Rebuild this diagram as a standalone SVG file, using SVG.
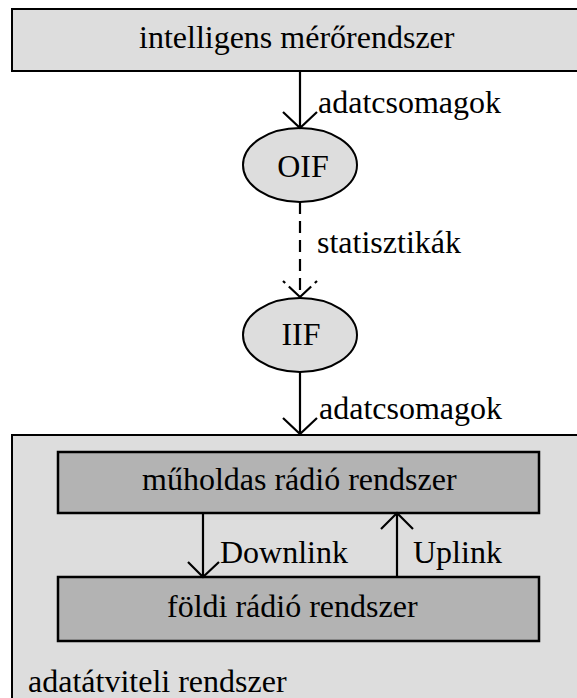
<svg xmlns="http://www.w3.org/2000/svg" width="577" height="698" viewBox="0 0 577 698">
  <style>
    .box { fill: #dddddd; stroke: #000; stroke-width: 2; }
    .inner { fill: #b3b3b3; stroke: #000; stroke-width: 2.5; }
    .node { fill: #dddddd; stroke: #000; stroke-width: 2; }
    .t { font-family: "Liberation Serif", "Times New Roman", serif; font-size: 32px; fill: #000; }
    .c { text-anchor: middle; }
    .edge { fill: none; stroke: #000; stroke-width: 2.2; }
    .dash { stroke-dasharray: 12 7; }
    .headdash { stroke-dasharray: 3 5 20; }
  </style>
  <rect width="577" height="698" fill="#fff"/>

  <g id="meroredszer">
    <rect class="box" x="12" y="9" width="580" height="62"/>
    <text class="t" x="139" y="48">intelligens mérőrendszer</text>
  </g>

  <g id="adatatviteli">
    <rect class="box" x="12" y="435" width="580" height="280"/>
    <text class="t" x="28" y="692">adatátviteli rendszer</text>
  </g>

  <g id="muholdas">
    <rect class="inner" x="58" y="452" width="481" height="61"/>
    <text class="t" x="142" y="490">műholdas rádió rendszer</text>
  </g>

  <g id="foldi">
    <rect class="inner" x="58" y="577" width="481" height="64"/>
    <text class="t" x="167" y="617">földi rádió rendszer</text>
  </g>

  <g id="oif">
    <ellipse class="node" cx="300" cy="165" rx="57" ry="37"/>
    <text class="t c" x="303" y="177">OIF</text>
  </g>

  <g id="iif">
    <ellipse class="node" cx="300" cy="335" rx="57" ry="37"/>
    <text class="t c" x="301" y="345">IIF</text>
  </g>

  <g id="connectors">
    <path class="edge" d="M300 71 V128 M283 112 L300 128 L317 112"/>
    <text class="t" x="318" y="113">adatcsomagok</text>

    <path class="edge dash" d="M300 202 V297"/>
    <path class="edge headdash" d="M283 281 L300 297"/>
    <path class="edge headdash" d="M317 281 L300 297"/>
    <text class="t" x="317" y="253">statisztikák</text>

    <path class="edge" d="M300 372 V434 M283 418 L300 434 L317 418"/>
    <text class="t" x="319" y="419">adatcsomagok</text>

    <path class="edge" d="M203 513 V577 M188 562 L203 577 L219 562"/>
    <text class="t" x="220" y="563">Downlink</text>

    <path class="edge" d="M397 577 V513 M381 529 L397 513 L413 529"/>
    <text class="t" x="413" y="563">Uplink</text>
  </g>
</svg>
